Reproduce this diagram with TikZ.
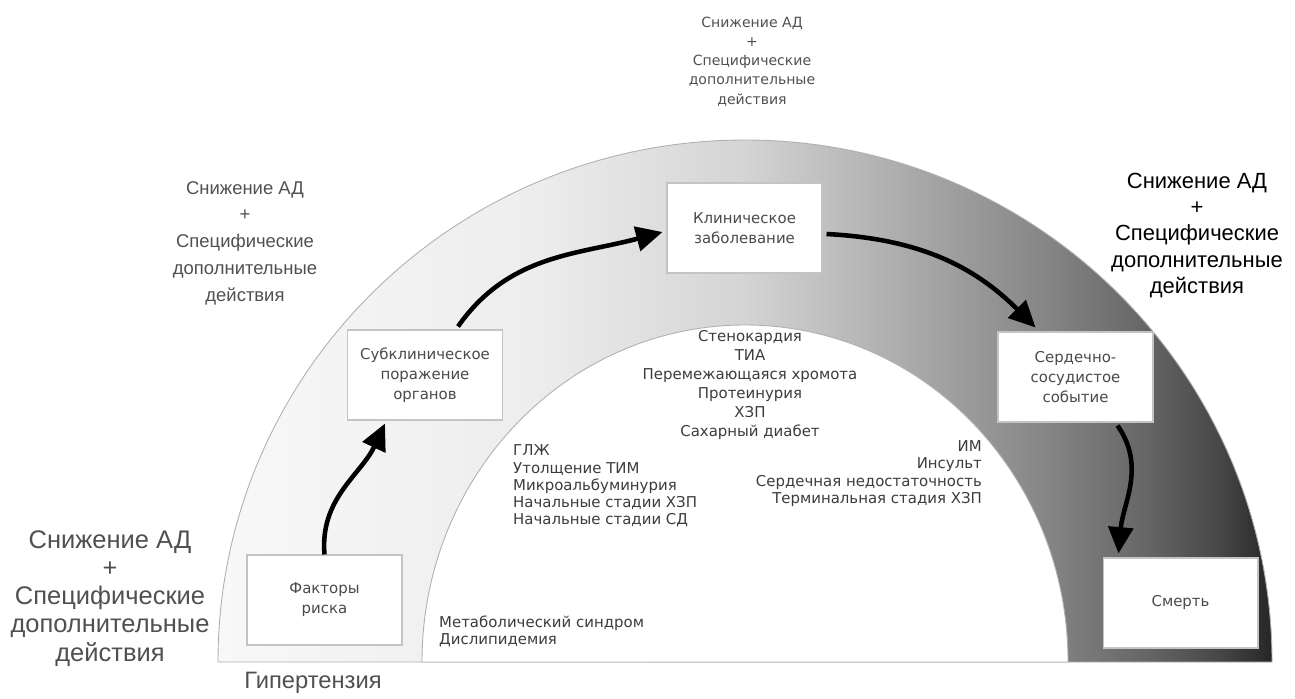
\documentclass[tikz,border=0pt]{standalone}
\usepackage{fontspec}
\setmainfont{Liberation Sans}
\newfontfamily\listfont{DejaVu Sans}
\usetikzlibrary{positioning,arrows.meta,calc}
\definecolor{archA}{HTML}{F8F8F8}
\definecolor{archB}{HTML}{EDEDED}
\definecolor{archC}{HTML}{D4D4D4}
\definecolor{archD}{HTML}{ACACAC}
\definecolor{archE}{HTML}{878787}
\definecolor{archF}{HTML}{666666}
\definecolor{archG}{HTML}{474747}
\definecolor{archH}{HTML}{262626}
\definecolor{archline}{HTML}{B0B0B0}
\definecolor{boxline}{HTML}{C4C4C4}
\definecolor{boxtext}{HTML}{4A4A4A}
\definecolor{notegrey}{HTML}{505050}
\definecolor{listgrey}{HTML}{3C3C3C}
\pgfdeclarehorizontalshading{archshade}{100bp}{color(0bp)=(archA); color(25bp)=(archA);
  color(40bp)=(archB); color(50bp)=(archC); color(57.5bp)=(archD); color(64bp)=(archE);
  color(69bp)=(archF); color(72.5bp)=(archG); color(75bp)=(archH); color(100bp)=(archH)}

\begin{document}
\begin{tikzpicture}[x=0.02cm, y=0.02cm,
  stagebox/.style={draw=boxline, line width=0.6pt, fill=white,
                   minimum width=3.1cm, minimum height=1.8cm, inner sep=1pt,
                   align=center, text=boxtext,
                   font=\listfont\fontsize{8.5pt}{11.3pt}\selectfont},
  bignote/.style={align=center, text=notegrey},
  listnote/.style={text=listgrey, font=\listfont\fontsize{8.5pt}{9.8pt}\selectfont},
  flow/.style={-{Triangle[length=15pt,width=14pt]}, line width=2.6pt},
]
\useasboundingbox (0,0) rectangle (1295,698);

% arch
\shadedraw[shading=archshade, draw=archline, line width=0.5pt]
  (218,36) arc[start angle=180, end angle=0, x radius=527, y radius=522] -- cycle;
\filldraw[fill=white, draw=archline, line width=0.5pt]
  (422,36) arc[start angle=180, end angle=0, x radius=323, y radius=337] -- cycle;

% stages
\node[stagebox] (fr) at (324.5,98) {Факторы\\риска};
\node[stagebox] (sub) at (425,323) {Субклиническое\\поражение\\органов};
\node[stagebox] (klin) at (744.5,470) {Клиническое\\заболевание};
\node[stagebox] (serd) at (1075.5,321) {Сердечно-\\сосудистое\\событие};
\node[stagebox] (smert) at (1180.5,95) {Смерть};

\draw[flow] (fr.north) to[out=95,in=245] ($(sub.south)+(-40,-3)$);
\draw[flow] ($(sub.north)+(33,3)$) to[out=55,in=195] ($(klin.west)+(-4,-4)$);
\draw[flow] ($(klin.east)+(4,-6)$) to[out=-3,in=135] ($(serd.north)+(-40,4)$);
\draw[flow] ($(serd.south)+(42,-3)$) to[out=-55,in=85] ($(smert.north)+(-62,4)$);

% treatment notes
\node[bignote, font=\listfont\fontsize{8pt}{10.9pt}\selectfont] (topnote) at (752,636.5)
  {Снижение АД\\+\\Специфические\\дополнительные\\действия};
\node[bignote, font=\fontsize{10.5pt}{15.2pt}\selectfont] (leftnote) at (245,455)
  {Снижение АД\\+\\Специфические\\дополнительные\\действия};
\node[bignote, text=black, font=\fontsize{12.5pt}{14.9pt}\selectfont] (rightnote) at (1197,462.5)
  {Снижение АД\\+\\Специфические\\дополнительные\\действия};
\node[bignote, font=\fontsize{14.5pt}{16pt}\selectfont] (basenote) at (110,99.5)
  {Снижение АД\\+\\Специфические\\дополнительные\\действия};
\node[text=notegrey, font=\fontsize{13.5pt}{15pt}\selectfont] (hyper) at (313,15) {Гипертензия};

% conditions
\node[listnote, align=center, font=\listfont\fontsize{8.5pt}{10.9pt}\selectfont] (clinlist) at (750,313)
  {Стенокардия\\ТИА\\Перемежающаяся хромота\\Протеинурия\\ХЗП\\Сахарный диабет};
\node[listnote, align=left, anchor=west] (sublist) at (507,212)
  {ГЛЖ\\Утолщение ТИМ\\Микроальбуминурия\\Начальные стадии ХЗП\\Начальные стадии СД};
\node[listnote, align=right, anchor=east] (eventlist) at (988,224.5)
  {ИМ\\Инсульт\\Сердечная недостаточность\\Терминальная стадия ХЗП};
\node[listnote, align=left, anchor=west] (risklist) at (433,66.5)
  {Метаболический синдром\\Дислипидемия};
\end{tikzpicture}
\end{document}
